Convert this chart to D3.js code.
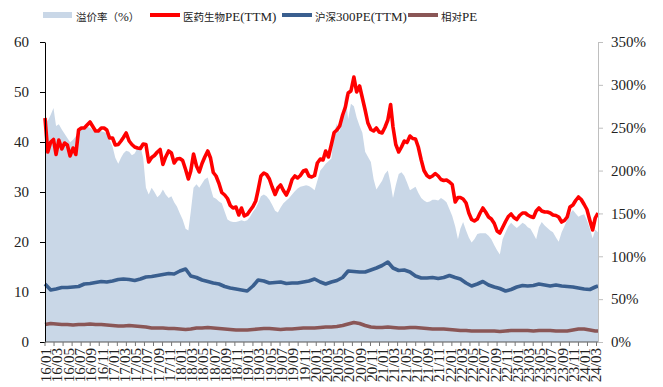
<!DOCTYPE html>
<html>
<head>
<meta charset="utf-8">
<script src="https://cdn.jsdelivr.net/npm/d3@7"></script>
<style>
  body { margin: 0; background: #fff; }
  svg { display: block; }
</style>
</head>
<body>
<svg id="chart" width="663" height="387"></svg>
<script>
// ---- data ----------------------------------------------------------
const legendLabels = ["溢价率（%）", "医药生物PE(TTM)", "沪深300PE(TTM)", "相对PE"];
const leftTicks = [0, 10, 20, 30, 40, 50, 60];
const rightTicks = [0, 50, 100, 150, 200, 250, 300, 350];

// half-monthly observations (1st and 16th), 2016-01-01 .. 2024-03-16
const medPE = [
  44.8, 38, 40, 40.5, 37.5, 40.4, 38.6, 39.8, 39.4, 37.2,
  38.8, 37.5, 42.4, 42.8, 42.8, 43.4, 44, 43.1, 42.2, 42.2,
  42.8, 42.8, 42.4, 40.8, 40.8, 39.4, 39.5, 40.2, 40.9, 41.8,
  40.2, 39.5, 39, 38.8, 38.7, 39.6, 39.5, 36, 36.9, 37.3,
  38, 38.5, 35.5, 37, 38.2, 37.8, 35.8, 36.6, 36.7, 36.3,
  34.5, 32.6, 34.2, 37.6, 35.2, 34, 35.7, 37, 38.2, 36.8,
  33.9, 33.2, 31.7, 29.9, 29.4, 28.7, 27.3, 26.8, 27, 25.4,
  26.8, 25.2, 25.5, 26.3, 27.1, 28.2, 30.4, 33.2, 33.8, 33.5,
  32.6, 31, 29.5, 30.8, 31.4, 30.3, 29.4, 30.6, 32.5, 33.2,
  32.8, 33.3, 34.2, 34.4, 33.2, 33, 33.3, 35.8, 36.6, 36.4,
  38.2, 37, 39.5, 41.9, 42.4, 43.2, 45.4, 47, 49.8, 50.2,
  53, 50, 51.2, 48.8, 46.4, 43.8, 42.5, 42.2, 42.8, 42,
  41.8, 42.9, 44.4, 47.5, 43, 39.5, 38, 39, 40.2, 39.9,
  41.2, 40.7, 40.6, 39, 36.4, 34.3, 33.3, 32.9, 33.2, 33.7,
  33.2, 32.5, 32.3, 32.4, 32, 31.5, 28, 28.9, 28.9, 28.6,
  27.8, 25.8, 24.5, 24.2, 24.6, 25.8, 26.8, 26, 25, 24.6,
  23.7, 22.2, 21.8, 22.9, 24.1, 25.1, 25.6, 24.9, 24.5, 25.3,
  25.8, 25.8, 25.4, 25.1, 24.9, 26.2, 26.8, 26.2, 26, 26,
  25.8, 25.4, 25.3, 25, 24, 24.3, 25, 27, 27.4, 28.3,
  29, 28.5, 27.5, 26.5, 24.3, 22.4, 24.8, 25.8
];

// premium of the sector PE over the CSI 300 PE, in %
const premium = [
  262, 258, 265, 273, 252, 254, 248, 243, 238, 233,
  236, 240, 248, 250, 249, 251, 250, 247, 244, 245,
  246, 245, 243, 236, 228, 215, 208, 215, 220, 223,
  222, 218, 220, 226, 228, 215, 180, 172, 180, 175,
  169, 172, 178, 172, 168, 170, 163, 158, 150, 143,
  132, 130, 152, 180, 184, 180, 185, 190, 192, 180,
  169, 167, 164, 162, 152, 143, 141, 140, 140, 141,
  142, 141, 142, 146, 152, 156, 162, 170, 172, 170,
  166, 160, 153, 151, 157, 162, 165, 168, 172, 176,
  179, 181, 182, 183, 182, 180, 177, 188, 200, 204,
  208, 211, 214, 245, 255, 245, 265, 290, 260, 278,
  275, 262, 252, 244, 222, 216, 210, 190, 178, 183,
  188, 196, 200, 185, 168, 183, 196, 198, 194, 186,
  177, 179, 181, 174, 168, 165, 163, 164, 166, 166,
  165, 168, 166, 163, 155, 147, 135, 120, 132, 140,
  130, 122, 116, 120, 126, 127, 127, 127, 124, 120,
  113, 107, 102, 120, 128, 135, 139, 136, 133, 136,
  139, 137, 134, 132, 126, 120, 134, 140, 136, 133,
  130, 128, 122, 117, 128, 135, 143, 150, 154, 150,
  146, 148, 149, 142, 132, 121, 131, 128
];

// monthly observations (1st of month), 2016-01 .. 2024-03, plus 2024-03-16
const hs300PE = [
  11.6, 10.4, 10.6, 10.9, 10.9, 11.0, 11.1, 11.6, 11.7, 11.9,
  12.1, 12.0, 12.2, 12.5, 12.6, 12.5, 12.3, 12.6, 13.0, 13.1,
  13.3, 13.5, 13.7, 13.6, 14.2, 14.6, 13.2, 12.9, 12.4, 12.1,
  11.8, 11.6, 11.1, 10.8, 10.6, 10.4, 10.2, 11.2, 12.4, 12.2,
  11.8, 11.9, 12.0, 11.7, 11.8, 11.8, 12.0, 12.2, 12.6, 12.0,
  11.6, 12.0, 12.3, 12.9, 14.2, 14.1, 14.0, 14.0, 14.4, 14.8,
  15.3, 16.0, 14.8, 14.3, 14.4, 14.0, 13.2, 12.8, 12.8, 12.9,
  12.7, 12.9, 13.3, 12.9, 12.6, 11.8, 11.2, 11.6, 12.1, 11.4,
  11.0, 10.7, 10.2, 10.5, 11.0, 11.3, 11.2, 11.3, 11.6, 11.4,
  11.2, 11.4, 11.2, 11.1, 11.0, 10.8, 10.6, 10.5, 11.0, 11.2
];

const relPE = [
  3.5, 3.7, 3.6, 3.5, 3.5, 3.4, 3.5, 3.5, 3.6, 3.5,
  3.5, 3.4, 3.3, 3.2, 3.2, 3.3, 3.2, 3.1, 3.0, 2.8,
  2.8, 2.8, 2.7, 2.7, 2.6, 2.5, 2.6, 2.8, 2.8, 2.9,
  2.8, 2.7, 2.6, 2.5, 2.4, 2.4, 2.4, 2.5, 2.6, 2.7,
  2.7, 2.6, 2.5, 2.6, 2.6, 2.7, 2.8, 2.8, 2.8, 2.9,
  3.0, 3.0, 3.1, 3.3, 3.6, 3.9, 3.7, 3.3, 3.0, 2.9,
  2.9, 3.0, 2.9, 2.8, 2.8, 2.9, 2.9, 2.8, 2.7, 2.6,
  2.6, 2.6, 2.5, 2.4, 2.3, 2.3, 2.2, 2.2, 2.2, 2.2,
  2.2, 2.1, 2.2, 2.3, 2.3, 2.3, 2.3, 2.2, 2.3, 2.3,
  2.3, 2.2, 2.2, 2.2, 2.4, 2.6, 2.6, 2.4, 2.2, 2.2
];

// ---- dates ---------------------------------------------------------
const startDate = new Date(Date.UTC(2016, 0, 1));
const endDate = new Date(Date.UTC(2024, 2, 16));
const months = d3.utcMonth.range(startDate, d3.utcMonth.offset(endDate, 1));
const halfMonthDates = [];
months.forEach(m => { halfMonthDates.push(m, d3.utcDay.offset(m, 15)); });
const monthDates = d3.utcMonth.range(startDate, d3.utcDay.offset(endDate, -1)).concat([endDate]);

// ---- layout --------------------------------------------------------
const plot = { left: 45, right: 598, top: 42, bottom: 342 };
const colors = { area: "#c9d7e7", med: "#ff0000", hs: "#3a5f8f", rel: "#8a5656" };
const serif = "'Liberation Serif', 'Times New Roman', serif";
const cjk = "'Noto Sans CJK SC', sans-serif";

const svg = d3.select("#chart");

const x = d3.scaleUtc().domain([startDate, endDate]).range([plot.left, plot.right]);
const yL = d3.scaleLinear().domain([0, 60]).range([plot.bottom, plot.top]);
const yR = d3.scaleLinear().domain([0, 350]).range([plot.bottom, plot.top]);

// premium area (right axis)
svg.append("path")
  .datum(premium.map((v, i) => [halfMonthDates[i], v]))
  .attr("fill", colors.area)
  .attr("d", d3.area().x(d => x(d[0])).y0(yR(0)).y1(d => yR(d[1])));

const line = d3.line().x(d => x(d[0])).y(d => yL(d[1]));
function drawLine(dates, values, color) {
  svg.append("path")
    .datum(values.map((v, i) => [dates[i], v]))
    .attr("fill", "none")
    .attr("stroke", color)
    .attr("stroke-width", 3.6)
    .attr("stroke-linejoin", "round")
    .attr("d", line);
}
drawLine(halfMonthDates, medPE, colors.med);
drawLine(monthDates, hs300PE, colors.hs);
drawLine(monthDates, relPE, colors.rel);

// left axis
const gL = svg.append("g").attr("transform", `translate(${plot.left},0)`)
  .call(d3.axisLeft(yL).tickValues(leftTicks).tickSize(5).tickPadding(11).tickSizeOuter(0));
gL.select(".domain").attr("stroke", "#000");
gL.selectAll(".tick line").attr("stroke", "#000");
gL.selectAll("text").attr("font-family", serif).attr("font-size", 15).attr("fill", "#222");

// right axis
const gR = svg.append("g").attr("transform", `translate(${plot.right},0)`)
  .call(d3.axisRight(yR).tickValues(rightTicks).tickFormat(d => d + "%").tickSize(5).tickPadding(8).tickSizeOuter(0));
gR.select(".domain").attr("stroke", "#bfbfbf");
gR.selectAll(".tick line").attr("stroke", "#bfbfbf");
gR.selectAll("text").attr("font-family", serif).attr("font-size", 15).attr("fill", "#222");

// bottom axis: line, minor marks, rotated month labels
svg.append("line")
  .attr("x1", plot.left).attr("x2", plot.right)
  .attr("y1", plot.bottom).attr("y2", plot.bottom)
  .attr("stroke", "#555").attr("stroke-width", 1);

const markDates = d3.range(0, 62).map(j => d3.utcDay.offset(startDate, 49 * j)).filter(d => d <= endDate);
svg.append("g").selectAll("line").data(markDates).join("line")
  .attr("x1", d => x(d)).attr("x2", d => x(d))
  .attr("y1", plot.bottom).attr("y2", plot.bottom + 4)
  .attr("stroke", "#777").attr("stroke-width", 1);

const labelDates = d3.utcMonth.every(2).range(startDate, endDate);
const fmt = d3.utcFormat("%y/%m");
svg.append("g").selectAll("text").data(labelDates).join("text")
  .attr("transform", d => `translate(${x(d) + 1},${plot.bottom + 6}) rotate(-90)`)
  .attr("text-anchor", "end")
  .attr("dy", "0.35em")
  .attr("font-family", serif)
  .attr("font-size", 15)
  .attr("fill", "#222")
  .text(fmt);

// legend
const legendItems = [
  { x: 43, kind: "rect", color: colors.area },
  { x: 150, kind: "line", color: colors.med },
  { x: 282, kind: "line", color: colors.hs },
  { x: 408, kind: "line", color: colors.rel }
];
const legendY = 15;
const lg = svg.append("g");
legendItems.forEach((it, i) => {
  if (it.kind === "rect") {
    lg.append("rect").attr("x", it.x).attr("y", legendY - 3).attr("width", 29).attr("height", 6).attr("fill", it.color);
  } else {
    lg.append("line").attr("x1", it.x).attr("x2", it.x + 30).attr("y1", legendY).attr("y2", legendY)
      .attr("stroke", it.color).attr("stroke-width", 4);
  }
  const t = lg.append("text").attr("x", it.x + 33).attr("y", legendY).attr("dy", "0.35em").attr("fill", "#222");
  const runs = legendLabels[i].match(/[\u3000-\u9fff\uff00-\uffef]+|[^\u3000-\u9fff\uff00-\uffef]+/g);
  runs.forEach(r => {
    const isCJK = /[\u3000-\u9fff\uff00-\uffef]/.test(r);
    t.append("tspan")
      .attr("font-family", isCJK ? cjk : serif)
      .attr("font-size", isCJK ? 10.5 : 13)
      .text(r);
  });
});
</script>
</body>
</html>
